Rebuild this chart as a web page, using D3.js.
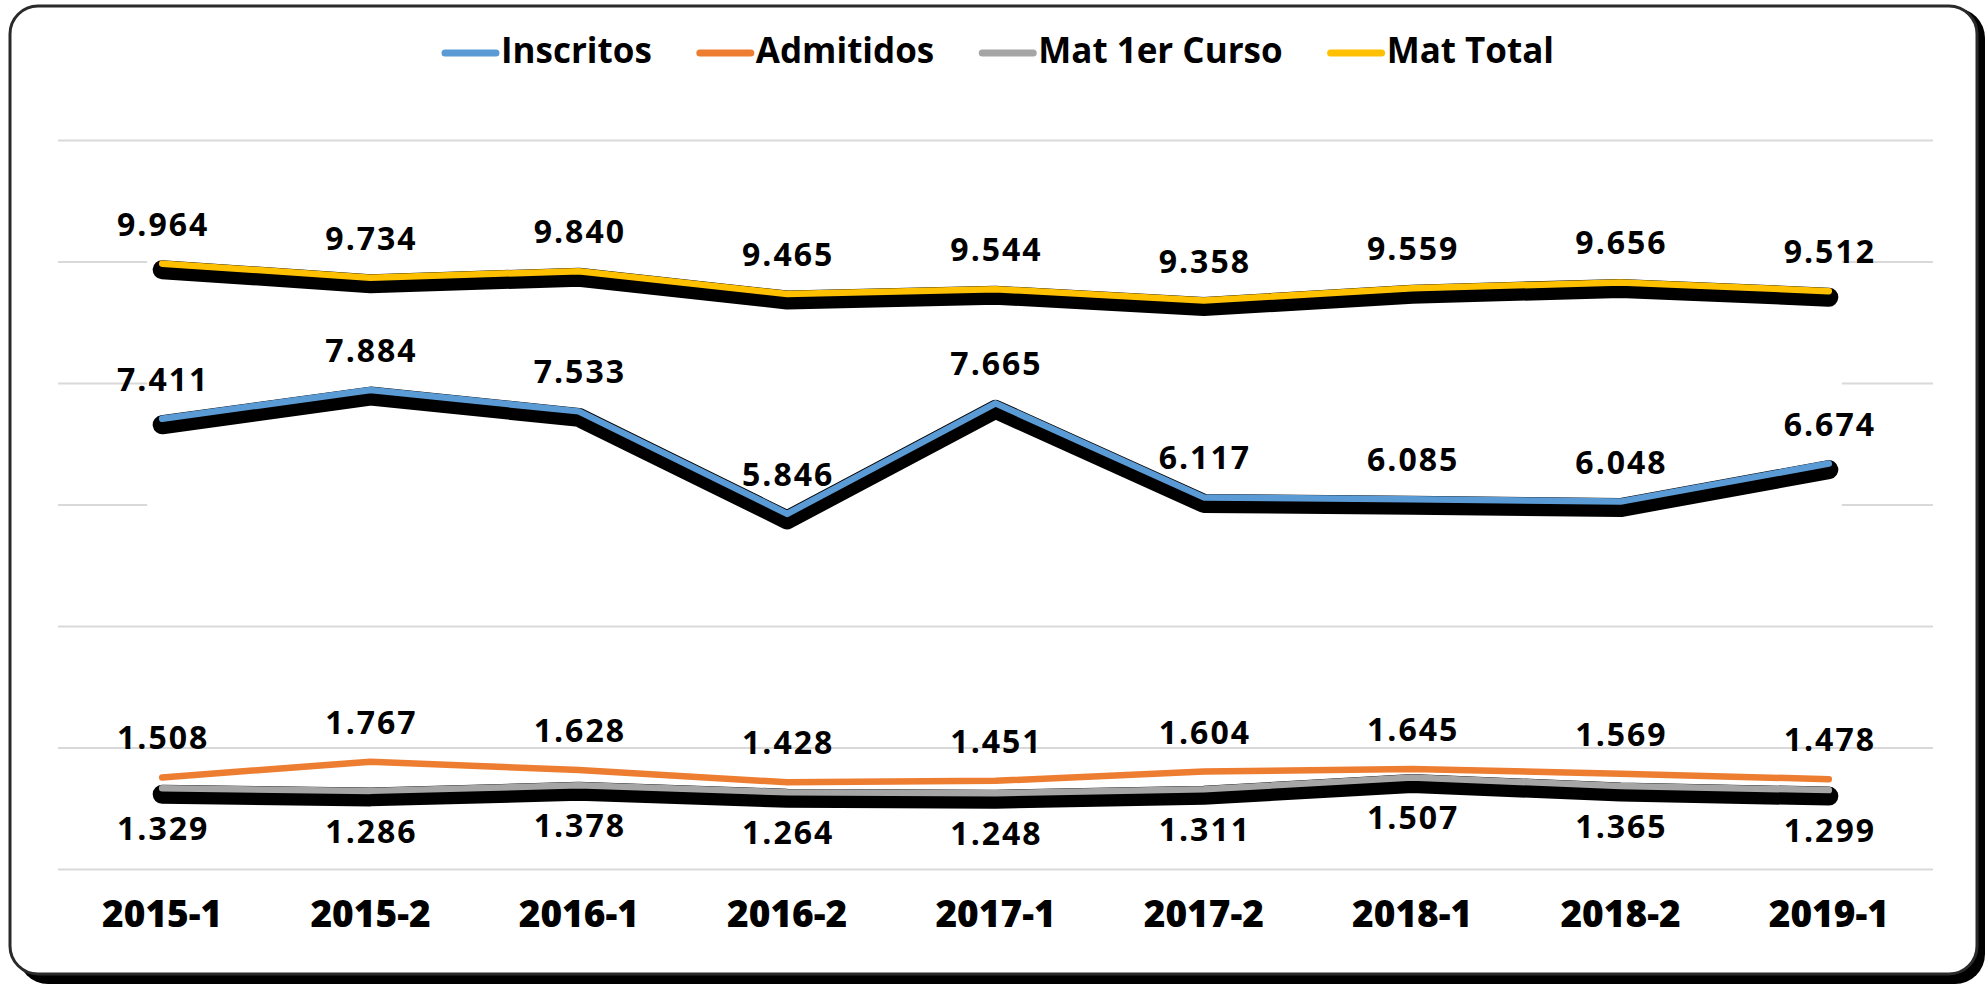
<!DOCTYPE html>
<html>
<head>
<meta charset="utf-8">
<script src="https://cdn.jsdelivr.net/npm/d3@7"></script>
<style>
  html, body { margin: 0; padding: 0; background: #fff; }
  svg { display: block; }
  text { font-family: "Open Sans", sans-serif; fill: #000; }
</style>
</head>
<body>
<div id="chart"></div>
<script>
// Data
const periods = ["2015-1", "2015-2", "2016-1", "2016-2", "2017-1", "2017-2", "2018-1", "2018-2", "2019-1"];
const inscritos = [7411, 7884, 7533, 5846, 7665, 6117, 6085, 6048, 6674];
const admitidos = [1508, 1767, 1628, 1428, 1451, 1604, 1645, 1569, 1478];
const mat1erCurso = [1329, 1286, 1378, 1264, 1248, 1311, 1507, 1365, 1299];
const matTotal = [9964, 9734, 9840, 9465, 9544, 9358, 9559, 9656, 9512];
const seriesNames = ["Inscritos", "Admitidos", "Mat 1er Curso", "Mat Total"];
const seriesColors = ["#5B9BD5", "#ED7D31", "#A5A5A5", "#FFC000"];
const yTicks = [0, 2000, 4000, 6000, 8000, 10000, 12000];

const W = 1985, H = 984;
const margin = {top: 140, right: 52, bottom: 115, left: 58};
const width = W - margin.left - margin.right,
      height = H - margin.top - margin.bottom;

const fmt = d3.formatLocale({decimal: ",", thousands: ".", grouping: [3], currency: ["$", ""]}).format(",");

const series = [
    {name: seriesNames[0], values: inscritos, color: seriesColors[0], shadow: true, below: false},
    {name: seriesNames[1], values: admitidos, color: seriesColors[1], shadow: false, below: false},
    {name: seriesNames[2], values: mat1erCurso, color: seriesColors[2], shadow: true, below: true},
    {name: seriesNames[3], values: matTotal, color: seriesColors[3], shadow: true, below: false}
];

const svg = d3.select("#chart").append("svg")
    .attr("width", W)
    .attr("height", H);

// Rounded frame with its shadow
svg.append("rect")
    .attr("x", 18).attr("y", 8)
    .attr("width", W - 18).attr("height", H - 8)
    .attr("rx", 30)
    .attr("fill", "#000");
svg.append("rect")
    .attr("x", 10).attr("y", 6)
    .attr("width", 1967).attr("height", 968)
    .attr("rx", 28)
    .attr("fill", "#fff")
    .attr("stroke", "#2a2a2a")
    .attr("stroke-width", 3);

const g = svg.append("g")
    .attr("transform", `translate(${margin.left},${margin.top})`);

const x = d3.scaleBand()
    .domain(periods)
    .range([0, width])
    .padding(0);

const y = d3.scaleLinear()
    .domain([0, 12000])
    .range([height, 0]);

const xc = d => x(d) + x.bandwidth() / 2;

// Gridlines
g.append("g")
    .call(d3.axisLeft(y).tickValues(yTicks).tickSize(-width).tickFormat(""))
    .call(a => a.select(".domain").remove())
    .call(a => a.selectAll("line").attr("stroke", "#d9d9d9").attr("stroke-width", 2));

// White backing behind the upper lines (hides the gridlines there)
const upper = inscritos.concat(matTotal);
g.append("rect")
    .attr("x", xc(periods[0]) - 15)
    .attr("y", y(d3.max(upper)) - 18)
    .attr("width", xc(periods[periods.length - 1]) - xc(periods[0]) + 28)
    .attr("height", y(d3.min(upper)) - y(d3.max(upper)) + 30)
    .attr("fill", "#fff");

const line = d3.line()
    .x((d, i) => xc(periods[i]))
    .y(d => y(d));

// Draw order: gray, orange, blue, yellow
[series[2], series[1], series[0], series[3]].forEach(s => {
    if (s.shadow) {
        g.append("path")
            .datum(s.values)
            .attr("d", line)
            .attr("transform", "translate(0,6)")
            .attr("fill", "none")
            .attr("stroke", "#000")
            .attr("stroke-width", 19)
            .attr("stroke-linejoin", "round")
            .attr("stroke-linecap", "round");
    }
    g.append("path")
        .datum(s.values)
        .attr("d", line)
        .attr("fill", "none")
        .attr("stroke", s.color)
        .attr("stroke-width", 6.5)
        .attr("stroke-linejoin", "round")
        .attr("stroke-linecap", "round");
});

// Data labels
series.forEach(s => {
    g.append("g").selectAll("text")
        .data(s.values)
        .enter()
        .append("text")
        .attr("x", (d, i) => xc(periods[i]) + 1)
        .attr("y", d => s.below ? y(d) + 52 : y(d) - 28)
        .attr("text-anchor", "middle")
        .attr("font-size", 32)
        .attr("font-weight", 700)
        .attr("letter-spacing", "2px")
        .text(d => fmt(d));
});

// Category labels
g.append("g").selectAll("text")
    .data(periods)
    .enter()
    .append("text")
    .attr("x", d => xc(d))
    .attr("y", height + 58)
    .attr("text-anchor", "middle")
    .attr("font-size", 37)
    .attr("font-weight", 800)
    .text(d => d);

// Legend
const legend = svg.append("g");
const swatchLen = 57, itemGap = 45;
let lx = 0;
series.forEach(s => {
    const item = legend.append("g").attr("transform", `translate(${lx},0)`);
    item.append("line")
        .attr("x1", 3).attr("x2", swatchLen - 3)
        .attr("y1", 53).attr("y2", 53)
        .attr("stroke", s.color)
        .attr("stroke-width", 7)
        .attr("stroke-linecap", "round");
    const t = item.append("text")
        .attr("x", swatchLen + 2)
        .attr("y", 63)
        .attr("font-size", 35)
        .attr("font-weight", 700)
        .text(s.name);
    lx += swatchLen + 2 + t.node().getComputedTextLength() + itemGap;
});
const legendW = lx - itemGap;
legend.attr("transform", `translate(${998 - legendW / 2},0)`);
</script>
</body>
</html>
